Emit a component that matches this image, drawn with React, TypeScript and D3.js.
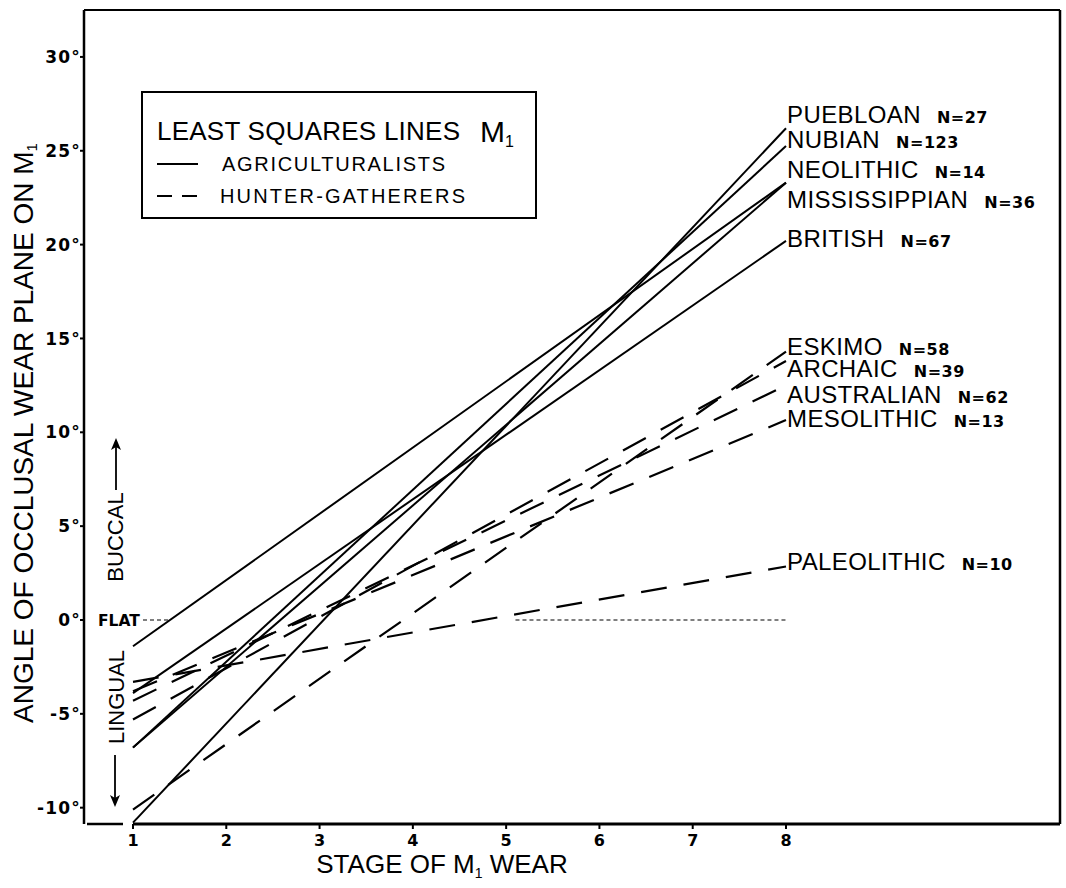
import React from "react";
import * as d3 from "d3";

// ---- data ----
const stageTicks = [1, 2, 3, 4, 5, 6, 7, 8];
const angleTicks = [-10, -5, 0, 5, 10, 15, 20, 25, 30];

const agriNames = ["PUEBLOAN", "NUBIAN", "NEOLITHIC", "MISSISSIPPIAN", "BRITISH"];
const agriN = [27, 123, 14, 36, 67];
const agriAtStage1 = [-10.8, -6.8, -6.8, -1.4, -3.9];
const agriAtStage8 = [26.2, 25.25, 23.3, 23.3, 20.2];

const hgNames = ["ESKIMO", "ARCHAIC", "AUSTRALIAN", "MESOLITHIC", "PALEOLITHIC"];
const hgN = [58, 39, 62, 13, 10];
const hgAtStage1 = [-10.1, -5.3, -4.3, -3.8, -3.3];
const hgAtStage8 = [14.3, 13.8, 12.5, 10.65, 2.85];

const flatStages = [5.1, 8];
const flatValue = 0;

// ---- layout ----
const W = 1066;
const H = 888;
const FRAME = { left: 84, right: 1060, top: 10, bottom: 824 };
const agriLabelBaseline = [123, 148, 178, 208, 247];
const hgLabelBaseline = [355, 377, 403, 427, 570];
const SANS = "'Liberation Sans', Arial, sans-serif";
const BOLD = "'DejaVu Sans', sans-serif";

export default function App() {
  const x = d3.scaleLinear().domain([1, 8]).range([133, 786]);
  const y = d3.scaleLinear().domain([-10.87, 32.5]).range([FRAME.bottom, FRAME.top]);
  const line = d3
    .line<[number, number]>()
    .x((d) => x(d[0]))
    .y((d) => y(d[1]));

  const agri = agriNames.map((name, i) => ({
    name,
    n: agriN[i],
    pts: [
      [1, agriAtStage1[i]],
      [8, agriAtStage8[i]],
    ] as [number, number][],
    base: agriLabelBaseline[i],
  }));
  const hg = hgNames.map((name, i) => ({
    name,
    n: hgN[i],
    pts: [
      [1, hgAtStage1[i]],
      [8, hgAtStage8[i]],
    ] as [number, number][],
    base: hgLabelBaseline[i],
  }));

  const labelX = x(8) + 1;

  return (
    <svg
      width={W}
      height={H}
      style={{ position: "absolute", left: 0, top: 0, background: "#fff" }}
    >
      <rect x={0} y={0} width={W} height={H} fill="#fff" />
      {/* frame */}
      <g stroke="#000" fill="none">
        <line x1={FRAME.left} y1={FRAME.top} x2={FRAME.right} y2={FRAME.top} strokeWidth={2} />
        <line x1={FRAME.right} y1={FRAME.top} x2={FRAME.right} y2={FRAME.bottom} strokeWidth={2.5} />
        <line x1={FRAME.left} y1={FRAME.top} x2={FRAME.left} y2={FRAME.bottom} strokeWidth={2.5} />
        <line x1={FRAME.left + 3} y1={FRAME.bottom} x2={x(1) - 10} y2={FRAME.bottom} strokeWidth={2.5} />
        <line x1={x(1)} y1={FRAME.bottom} x2={FRAME.right} y2={FRAME.bottom} strokeWidth={3} />
      </g>

      {/* y ticks */}
      {angleTicks.map((t) => (
        <g key={t}>
          <line x1={FRAME.left - 4} x2={FRAME.left} y1={y(t)} y2={y(t)} stroke="#000" strokeWidth={2} />
          <text
            x={FRAME.left - 3}
            y={y(t)}
            dy="0.36em"
            textAnchor="end"
            fontFamily={BOLD}
            fontWeight="bold"
            fontSize={17}
            letterSpacing={1.2}
          >
            {t < 0 ? "-" + Math.abs(t) : t}°
          </text>
        </g>
      ))}

      {/* x ticks */}
      {stageTicks.map((s) => (
        <g key={s}>
          <line x1={x(s)} x2={x(s)} y1={FRAME.bottom} y2={FRAME.bottom + 5} stroke="#000" strokeWidth={2} />
          <text x={x(s)} y={FRAME.bottom + 22} textAnchor="middle" fontFamily={BOLD} fontWeight="bold" fontSize={16}>
            {s}
          </text>
        </g>
      ))}

      {/* flat reference */}
      <text x={98} y={y(0)} dy="0.36em" fontFamily={BOLD} fontWeight="bold" fontSize={15.5}>
        FLAT
      </text>
      <line x1={143} x2={170} y1={y(0)} y2={y(0)} stroke="#000" strokeWidth={1.2} strokeDasharray="4,3" />
      <path
        d={line(flatStages.map((s) => [s, flatValue] as [number, number])) || ""}
        stroke="#000"
        strokeWidth={1.2}
        strokeDasharray="4,3"
        fill="none"
      />

      {/* buccal / lingual */}
      <text
        transform="translate(123,537) rotate(-90)"
        textAnchor="middle"
        fontFamily={SANS}
        fontSize={22}
      >
        BUCCAL
      </text>
      <line x1={116} x2={116} y1={490} y2={442} stroke="#000" strokeWidth={1.8} />
      <path d="M116,438 L111,450 L116,447 L121,450 Z" fill="#000" />
      <text
        transform="translate(124,697) rotate(-90)"
        textAnchor="middle"
        fontFamily={SANS}
        fontSize={22}
      >
        LINGUAL
      </text>
      <line x1={115} x2={115} y1={755} y2={802} stroke="#000" strokeWidth={1.8} />
      <path d="M115,807 L110,795 L115,798 L120,795 Z" fill="#000" />

      {/* lines */}
      {agri.map((d) => (
        <path key={d.name} d={line(d.pts) || ""} stroke="#000" strokeWidth={2} fill="none" />
      ))}
      {hg.map((d) => (
        <path
          key={d.name}
          d={line(d.pts) || ""}
          stroke="#000"
          strokeWidth={2.2}
          strokeDasharray="26,17"
          fill="none"
        />
      ))}

      {/* line labels */}
      {[...agri, ...hg].map((d) => (
        <text key={d.name} x={labelX} y={d.base} fontFamily={SANS} fontSize={24} letterSpacing={0.4}>
          {d.name}
          <tspan dx={16} fontFamily={BOLD} fontWeight="bold" fontSize={16} letterSpacing={0.5}>
            N={d.n}
          </tspan>
        </text>
      ))}

      {/* legend */}
      <rect x={142} y={92} width={394} height={126} fill="#fff" stroke="#000" strokeWidth={2} />
      <text x={157} y={140} fontFamily={SANS} fontSize={26} textLength={303} lengthAdjust="spacing">
        LEAST SQUARES LINES
      </text>
      <text x={480} y={142} fontFamily={SANS} fontSize={30}>
        M
        <tspan dy={5} fontSize={16}>
          1
        </tspan>
      </text>
      <line x1={157} x2={198} y1={164} y2={164} stroke="#000" strokeWidth={2} />
      <text x={222} y={171} fontFamily={SANS} fontSize={20} textLength={223} lengthAdjust="spacing">
        AGRICULTURALISTS
      </text>
      <line x1={157} x2={198} y1={196} y2={196} stroke="#000" strokeWidth={2} strokeDasharray="15,10" />
      <text x={220} y={203} fontFamily={SANS} fontSize={20} textLength={245} lengthAdjust="spacing">
        HUNTER-GATHERERS
      </text>

      {/* axis titles */}
      <text transform="translate(33,433) rotate(-90)" textAnchor="middle" fontFamily={SANS} fontSize={28}>
        ANGLE OF OCCLUSAL WEAR PLANE ON M
        <tspan dy={4} fontSize={15}>
          1
        </tspan>
      </text>
      <text x={442} y={873} textAnchor="middle" fontFamily={SANS} fontSize={26}>
        STAGE OF M
        <tspan dy={5} fontSize={14}>
          1
        </tspan>
        <tspan dy={-5}> WEAR</tspan>
      </text>
    </svg>
  );
}
